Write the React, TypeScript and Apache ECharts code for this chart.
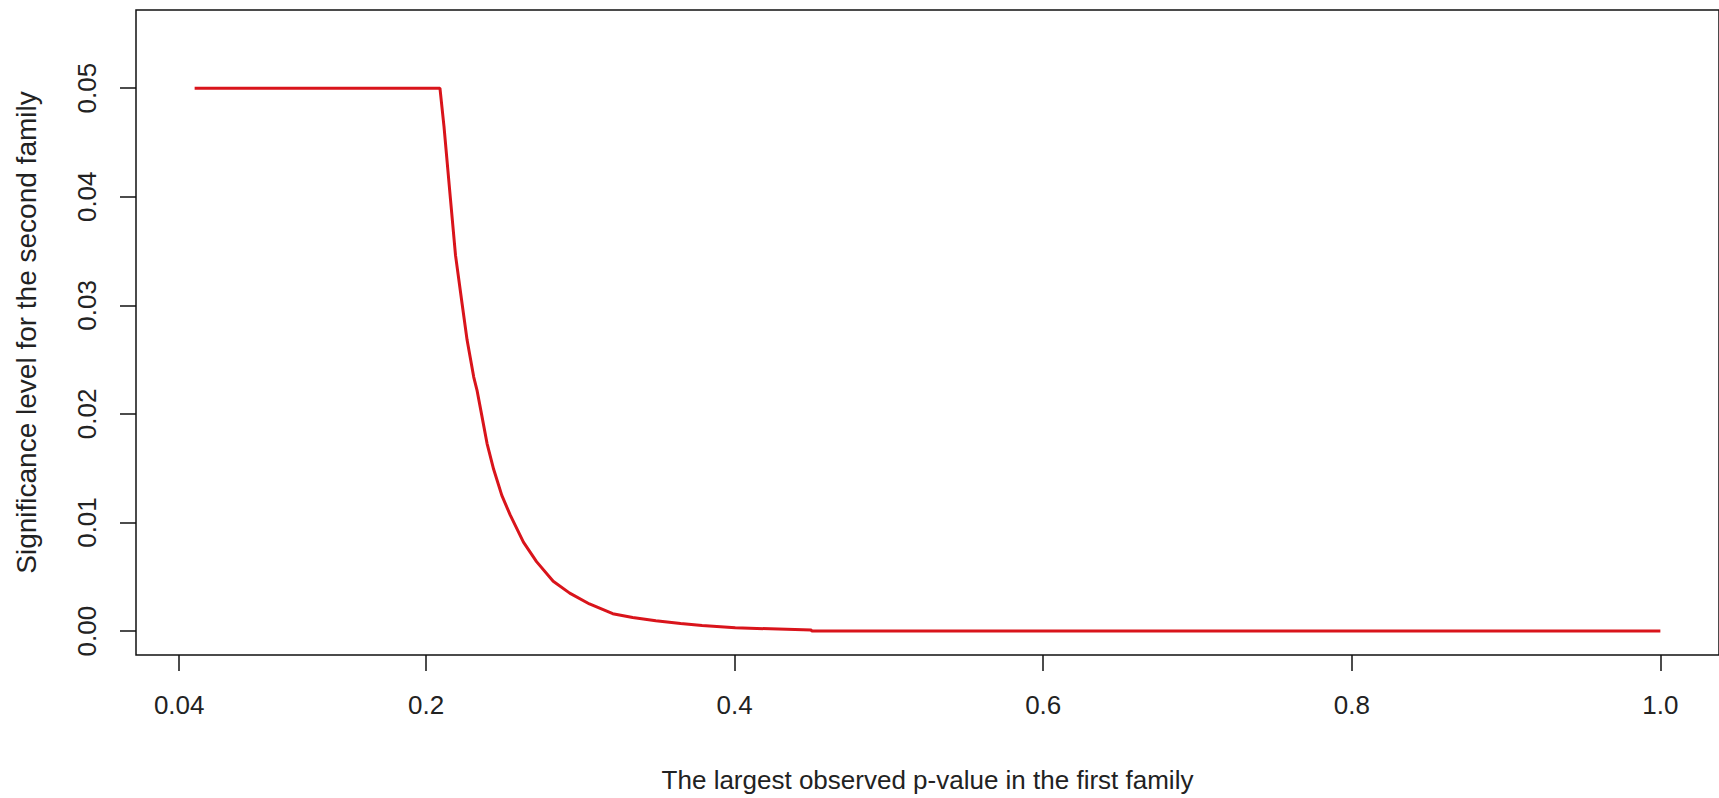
import React, { useEffect, useRef } from "react";
import * as echarts from "echarts";

const xValues = [
  0.05, 0.209, 0.2116, 0.2158, 0.2191, 0.2234, 0.2266, 0.2309, 0.233, 0.2362,
  0.2395, 0.2438, 0.2491, 0.2545, 0.2631, 0.2716, 0.2824, 0.2931, 0.3059,
  0.321, 0.3339, 0.3489, 0.3650, 0.3789, 0.4004, 0.4497, 0.4500, 1.0,
];
const yValues = [
  0.05, 0.05, 0.0465, 0.0398, 0.0346, 0.0301, 0.0268, 0.0234, 0.0222, 0.0198,
  0.0173, 0.0149, 0.0125, 0.0107, 0.0082, 0.0064, 0.0046, 0.0035, 0.0025,
  0.0016, 0.00125, 0.00095, 0.0007, 0.00052, 0.0003, 0.0001, 0.0, 0.0,
];

const xTickValues = [0.04, 0.2, 0.4, 0.6, 0.8, 1.0];
const xTickLabels = ["0.04", "0.2", "0.4", "0.6", "0.8", "1.0"];
const yTickValues = [0, 0.01, 0.02, 0.03, 0.04, 0.05];
const yTickLabels = ["0.00", "0.01", "0.02", "0.03", "0.04", "0.05"];

const xTitle = "The largest observed p-value in the first family";
const yTitle = "Significance level for the second family";

const FONT = "'Liberation Sans', Arial, sans-serif";

function pick(values: number[], labels: string[], v: number): string {
  const i = values.findIndex((t) => Math.abs(t - v) < 1e-9);
  return i >= 0 ? labels[i] : "";
}

export default function App() {
  const ref = useRef<HTMLDivElement>(null);
  useEffect(() => {
    if (!ref.current) return;
    const chart = echarts.init(ref.current, undefined, { renderer: "svg" });
    const data = xValues.map((x, i) => [x, yValues[i]]);
    chart.setOption({
      animation: false,
      backgroundColor: "#ffffff",
      grid: {
        left: 136,
        top: 10,
        width: 1595,
        height: 652,
        show: true,
        borderColor: "#111",
        borderWidth: 1.5,
        backgroundColor: "transparent",
      },
      xAxis: {
        type: "value",
        min: 0.012,
        max: 1.038,
        name: xTitle,
        nameLocation: "middle",
        nameGap: 112,
        nameTextStyle: { fontFamily: FONT, fontSize: 26, color: "#222" },
        axisLine: { show: false, onZero: false },
        splitLine: { show: false },
        axisTick: {
          show: true,
          inside: false,
          length: 16,
          customValues: xTickValues,
          lineStyle: { color: "#111", width: 1.5 },
        },
        axisLabel: {
          customValues: xTickValues,
          margin: 37,
          fontFamily: FONT,
          fontSize: 26,
          color: "#222",
          formatter: (v: number) => pick(xTickValues, xTickLabels, v),
        },
      },
      yAxis: {
        type: "value",
        min: -0.0022,
        max: 0.0572,
        name: yTitle,
        nameLocation: "middle",
        nameGap: 96,
        nameTextStyle: { fontFamily: FONT, fontSize: 28, color: "#222" },
        axisLine: { show: false, onZero: false },
        splitLine: { show: false },
        axisTick: {
          show: true,
          inside: false,
          length: 16,
          customValues: yTickValues,
          lineStyle: { color: "#111", width: 1.5 },
        },
        axisLabel: {
          customValues: yTickValues,
          rotate: 90,
          margin: 36,
          fontFamily: FONT,
          fontSize: 26,
          color: "#222",
          formatter: (v: number) => pick(yTickValues, yTickLabels, v),
        },
      },
      series: [
        {
          type: "line",
          data,
          showSymbol: false,
          symbol: "none",
          clip: true,
          lineStyle: { color: "#d9141b", width: 3 },
        },
      ],
    });
    return () => chart.dispose();
  }, []);
  return (
    <div
      ref={ref}
      style={{ position: "fixed", left: 0, top: 0, width: 1719, height: 798 }}
    />
  );
}
